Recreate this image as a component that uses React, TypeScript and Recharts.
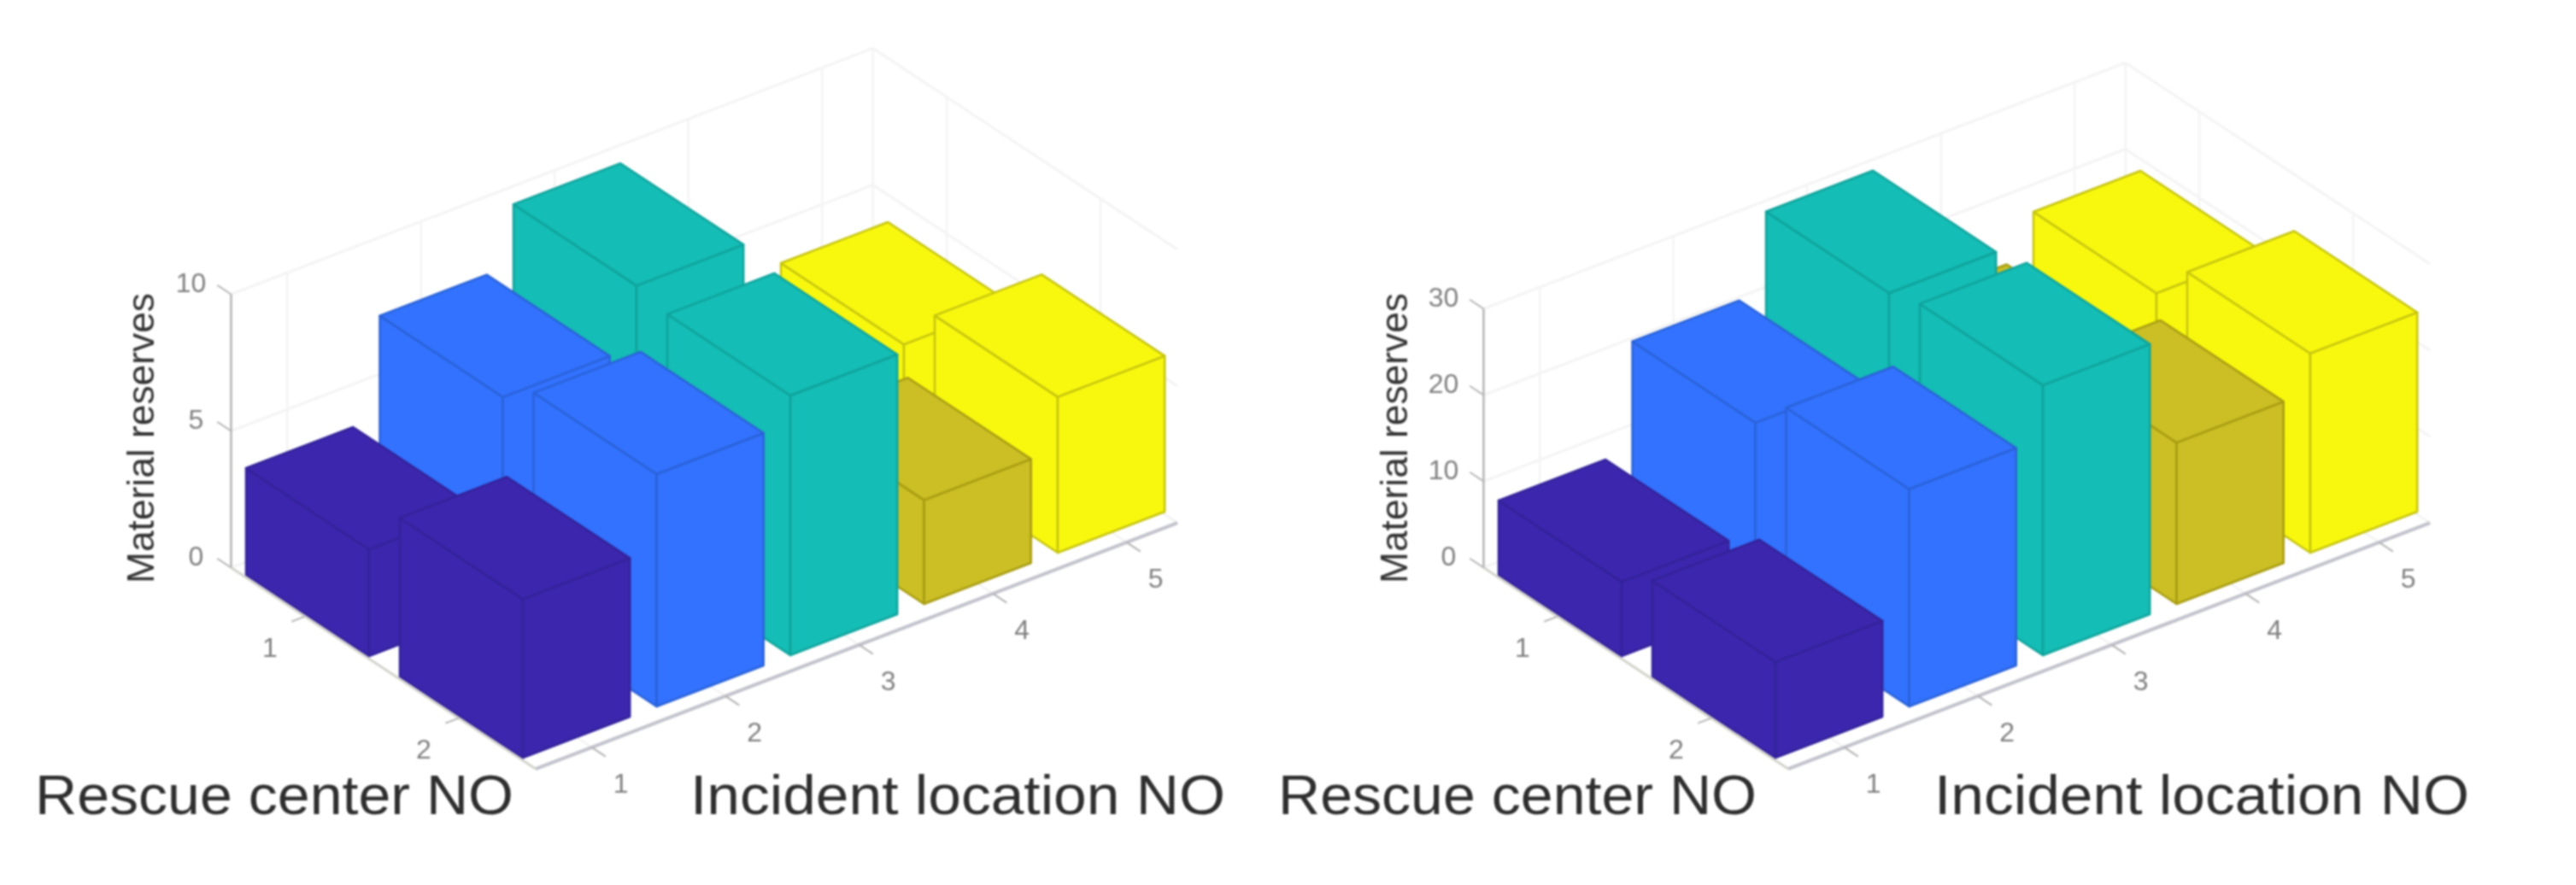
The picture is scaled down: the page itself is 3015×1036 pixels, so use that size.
import React from "react";
import { ScatterChart, Scatter, XAxis, YAxis } from "recharts";

const WIDTH = 3015;
const HEIGHT = 1036;

// ---------- data ----------
const locations = [1, 2, 3, 4, 5];
const centers = [1, 2];

const leftCenter1 = [3.9, 7.6, 9.8, 3, 3.9];
const leftCenter2 = [5.8, 8.5, 9.5, 3.8, 5.7];
const leftTicks = [0, 5, 10];

const rightCenter1 = [8.6, 21.1, 30.2, 13.4, 18.3];
const rightCenter2 = [11.1, 25.2, 31.3, 18.7, 23.1];
const rightTicks = [0, 10, 20, 30];

const axisTitleZ = "Material reserves";
const axisTitleCenter = "Rescue center NO";
const axisTitleLocation = "Incident location NO";

// ---------- styles ----------
const fills = ["#3c26ad", "#3272fe", "#14bdb5", "#cbbf25", "#f8f80f"];
const edges = ["#33229a", "#2a62d8", "#0fa39c", "#a89c12", "#c6c40f"];

// ---------- oblique projection of (location, center, value) into the plane ----------
const origin = { x: 422.6, y: 696.4 };
const locStep = { x: 156.5, y: -60 };
const centerStep = { x: 180, y: 119 };
const locRange = [0.58, 5.38];
const centerRange = [0.52, 2.5];
const barHalf = 0.4;

type Panel = {
  shift: number;
  zUnit: number;
  zMax: number;
  ticks: number[];
  rows: number[][];
  titleZX: number;
  titleCenterX: number;
  titleLocX: number;
};

const panels: Panel[] = [
  {
    shift: 0,
    zUnit: 32,
    zMax: 10,
    ticks: leftTicks,
    rows: [leftCenter1, leftCenter2],
    titleZX: 180,
    titleCenterX: 41,
    titleLocX: 808,
  },
  {
    shift: 1466,
    zUnit: 10.1,
    zMax: 30,
    ticks: rightTicks,
    rows: [rightCenter1, rightCenter2],
    titleZX: 1647,
    titleCenterX: 1496,
    titleLocX: 2264,
  },
];

const project = (p: Panel, loc: number, center: number, z: number) => ({
  sx: p.shift + origin.x + (loc - 1) * locStep.x + (center - 1) * centerStep.x,
  sy: origin.y + (loc - 1) * locStep.y + (center - 1) * centerStep.y - z * p.zUnit,
});

type Bar = { sx: number; sy: number; locIndex: number; loc: number; center: number; value: number; panel: Panel };

const barsFor = (p: Panel): Bar[] => {
  const out: Bar[] = [];
  centers.forEach((c, ci) => {
    [...locations].reverse().forEach((l) => {
      const i = locations.indexOf(l);
      const a = project(p, l, c, 0);
      out.push({ ...a, locIndex: i, loc: l, center: c, value: p.rows[ci][i], panel: p });
    });
  });
  return out;
};

const Cube = (props: any) => {
  const { cx, cy, payload } = props;
  const b: Bar = payload;
  const toScreen = (dl: number, dc: number, z: number) => {
    const q = project(b.panel, b.loc + dl, b.center + dc, z);
    return `${cx + q.sx - b.sx},${cy + q.sy - b.sy}`;
  };
  const h = barHalf;
  const v = b.value;
  const style = {
    fill: fills[b.locIndex],
    stroke: edges[b.locIndex],
    strokeWidth: 2.5,
    strokeLinejoin: "round" as const,
  };
  return (
    <g>
      <polygon {...style} points={[toScreen(-h, -h, 0), toScreen(-h, h, 0), toScreen(-h, h, v), toScreen(-h, -h, v)].join(" ")} />
      <polygon {...style} points={[toScreen(-h, h, 0), toScreen(h, h, 0), toScreen(h, h, v), toScreen(-h, h, v)].join(" ")} />
      <polygon {...style} points={[toScreen(-h, -h, v), toScreen(-h, h, v), toScreen(h, h, v), toScreen(h, -h, v)].join(" ")} />
    </g>
  );
};

const NoDot = () => <g />;

const TickText = (props: any) => {
  const { cx, cy, payload } = props;
  return (
    <text x={cx} y={cy} textAnchor="middle" dominantBaseline="central" fontFamily="Liberation Sans" fontSize={32} fill="#808080">
      {payload.label}
    </text>
  );
};

const ZTitle = (props: any) => {
  const { cx, cy, payload } = props;
  return (
    <text
      x={cx}
      y={cy}
      transform={`rotate(-90 ${cx} ${cy})`}
      textAnchor="middle"
      fontFamily="Liberation Sans"
      fontSize={45}
      textLength={340}
      lengthAdjust="spacingAndGlyphs"
      fill="#333333"
    >
      {payload.label}
    </text>
  );
};

const BottomTitle = (props: any) => {
  const { cx, cy, payload } = props;
  return (
    <text x={cx} y={cy} fontFamily="Liberation Sans" fontSize={64} textLength={payload.len} lengthAdjust="spacingAndGlyphs" fill="#2e2e2e">
      {payload.label}
    </text>
  );
};

type Seg = { key: string; pts: { sx: number; sy: number }[]; color: string; width: number };

const segmentsFor = (p: Panel, idx: number): Seg[] => {
  const [l0, l1] = locRange;
  const [c0, c1] = centerRange;
  const faint = "#f4f4f4";
  const segs: Seg[] = [];
  const add = (key: string, a: any, b: any, color: string, width: number) =>
    segs.push({ key: `${idx}-${key}`, pts: [a, b], color, width });
  // walls and floor
  p.ticks.forEach((t) => {
    const back = project(p, l1, c0, t);
    add(`wa${t}`, project(p, l0, c0, t), back, faint, 3);
    add(`wb${t}`, back, project(p, l1, c1, t), faint, 3);
  });
  locations.forEach((l) => {
    add(`v${l}`, project(p, l, c0, 0), project(p, l, c0, p.zMax), faint, 2.5);
    add(`f${l}`, project(p, l, c0, 0), project(p, l, c1, 0), faint, 2.5);
  });
  centers.forEach((c) => {
    add(`u${c}`, project(p, l1, c, 0), project(p, l1, c, p.zMax), faint, 2.5);
    add(`g${c}`, project(p, l0, c, 0), project(p, l1, c, 0), faint, 2.5);
  });
  add("vb", project(p, l1, c0, 0), project(p, l1, c0, p.zMax), faint, 2.5);
  // drawn axes
  const axis = "#b4b4b4";
  add("zaxis", project(p, l0, c0, 0), project(p, l0, c0, p.zMax), axis, 2.5);
  add("xaxis", project(p, l0, c1, 0), project(p, l1, c1, 0), "#c2c2cc", 4);
  add("yaxis", project(p, l0, c0, 0), project(p, l0, c1, 0), "#d4d4cc", 3);
  p.ticks.forEach((t) => {
    add(`zt${t}`, project(p, l0, c0, t), project(p, l0, c0 - 0.09, t), axis, 2);
  });
  locations.forEach((l) => {
    add(`lt${l}`, project(p, l, c1, 0), project(p, l, c1 + 0.09, 0), axis, 2);
  });
  centers.forEach((c) => {
    add(`ct${c}`, project(p, l0, c, 0), project(p, l0 - 0.1, c, 0), axis, 2);
  });
  return segs;
};

const tickLabelsFor = (p: Panel) => {
  const out: { sx: number; sy: number; label: string }[] = [];
  const [l0] = locRange;
  const [c0, c1] = centerRange;
  p.ticks.forEach((t) => {
    const a = project(p, l0, c0, t);
    const wide = String(t).length > 1 ? 47 : 41;
    out.push({ sx: a.sx - wide, sy: a.sy - 13, label: String(t) });
  });
  locations.forEach((l) => {
    const a = project(p, l, c1, 0);
    out.push({ sx: a.sx + 34, sy: a.sy + 42, label: String(l) });
  });
  centers.forEach((c) => {
    const a = project(p, l0, c, 0);
    out.push({ sx: a.sx - 41, sy: a.sy + 36, label: String(c) });
  });
  return out;
};

const allSegments = panels.flatMap((p, i) => segmentsFor(p, i));

export default function App() {
  return (
    <div style={{ position: "absolute", left: 0, top: 0, width: WIDTH, height: HEIGHT, background: "#fff", filter: "blur(0.8px)" }}>
      <ScatterChart width={WIDTH} height={HEIGHT} margin={{ top: 0, right: 0, bottom: 0, left: 0 }}>
        <XAxis type="number" dataKey="sx" domain={[0, WIDTH]} hide />
        <YAxis type="number" dataKey="sy" domain={[0, HEIGHT]} reversed hide />
        {allSegments.map((s) => (
          <Scatter
            key={s.key}
            data={s.pts}
            isAnimationActive={false}
            line={{ stroke: s.color, strokeWidth: s.width }}
            shape={NoDot}
          />
        ))}
        {panels.map((p, i) => (
          <Scatter key={`bars-${i}`} data={barsFor(p)} isAnimationActive={false} shape={Cube} />
        ))}
        {panels.map((p, i) => (
          <Scatter key={`ticks-${i}`} data={tickLabelsFor(p)} isAnimationActive={false} shape={TickText} />
        ))}
        <Scatter
          data={panels.map((p) => ({ sx: p.titleZX, sy: 513, label: axisTitleZ }))}
          isAnimationActive={false}
          shape={ZTitle}
        />
        <Scatter
          data={panels.flatMap((p) => [
            { sx: p.titleCenterX, sy: 953, label: axisTitleCenter, len: 560 },
            { sx: p.titleLocX, sy: 953, label: axisTitleLocation, len: 626 },
          ])}
          isAnimationActive={false}
          shape={BottomTitle}
        />
      </ScatterChart>
    </div>
  );
}
